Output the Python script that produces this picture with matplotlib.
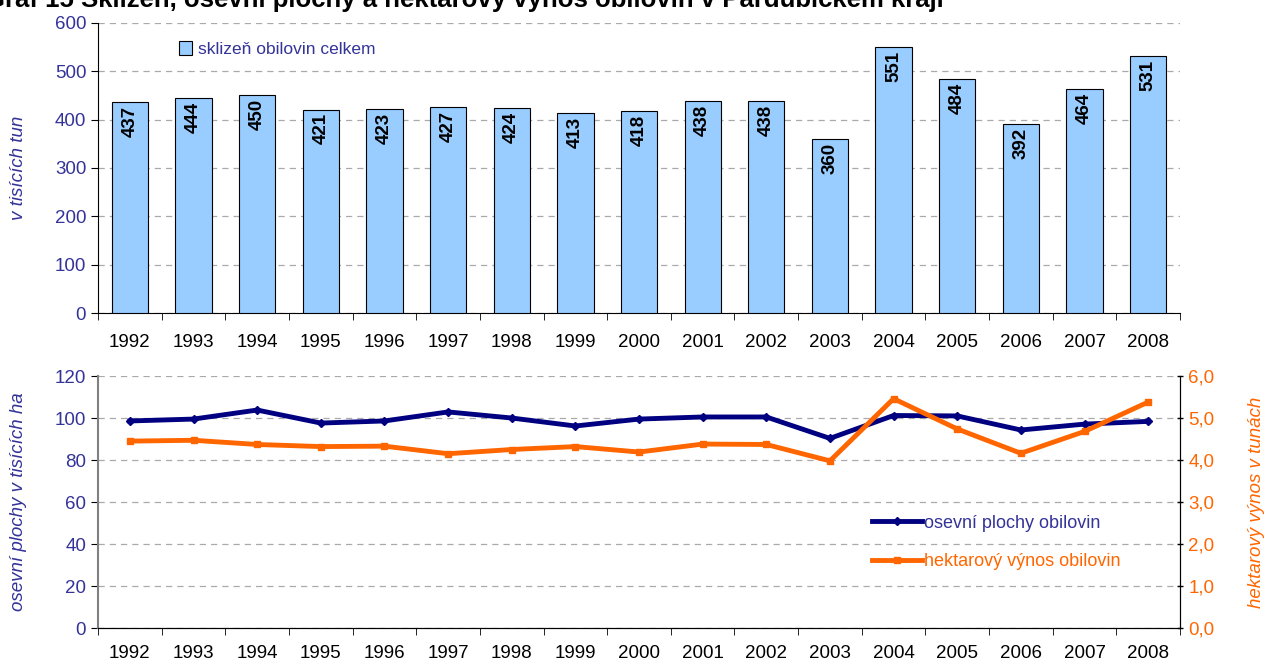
import numpy as np
import matplotlib.pyplot as plt
from matplotlib.ticker import FixedLocator, FuncFormatter

plt.rcParams['font.family'] = ['Liberation Sans', 'DejaVu Sans']

roky = [str(r) for r in range(1992, 2009)]
sklizen = [437, 444, 450, 421, 423, 427, 424, 413, 418, 438, 438, 360, 551, 484, 392, 464, 531]
plochy = [98.6, 99.5, 103.8, 97.6, 98.6, 102.9, 100.0, 96.2, 99.5, 100.5, 100.5, 90.3,
          101.2, 101.0, 94.3, 97.1, 98.4]
vynos = [4.45, 4.47, 4.37, 4.32, 4.33, 4.15, 4.25, 4.32, 4.19, 4.38, 4.37, 3.98,
         5.46, 4.74, 4.16, 4.68, 5.38]

modra = '#333399'
oranz = '#FF6600'
x = np.arange(len(roky))

fig = plt.figure(figsize=(12.65, 6.64), dpi=100)
ax1 = fig.add_axes([0.0775, 0.5286, 0.8553, 0.4368])
ax2 = fig.add_axes([0.0775, 0.0542, 0.8553, 0.3795])

# nadpis je v originale nahore oriznuty
fig.text(-0.012, 0.9895, 'Graf 15 Sklizeň, osevní plochy a hektarový výnos obilovin v Pardubickém kraji',
         fontsize=18.5, fontweight='bold', va='baseline', ha='left')

# horni graf - sklizen
ax1.bar(x, sklizen, width=0.57, color='#99CCFF', edgecolor='black', linewidth=0.8,
        label='sklizeň obilovin celkem', zorder=3)
for xi, v in zip(x, sklizen):
    ax1.text(xi, v - 8, str(v), rotation=90, ha='center', va='top',
             fontsize=13.5, fontweight='bold', zorder=4)
ax1.set_xlim(-0.5, 16.5)
ax1.set_ylim(0, 600)
ax1.set_yticks(range(0, 601, 100))
ax1.set_xticks(x)
ax1.set_xticklabels(roky)
ax1.xaxis.set_minor_locator(FixedLocator(np.arange(-0.5, 17, 1)))
ax1.tick_params(axis='x', which='major', length=0, pad=15, labelsize=13.5)
ax1.tick_params(axis='x', which='minor', length=5, direction='out')
ax1.tick_params(axis='y', labelsize=13.5, labelcolor=modra, length=5)
ax1.yaxis.grid(True, linestyle=(0, (5, 4)), color='#aaaaaa', linewidth=0.9, zorder=0)
ax1.set_axisbelow(True)
for s in ['top', 'right']:
    ax1.spines[s].set_visible(False)
ax1.set_ylabel('v tisících tun', fontsize=13.5, color=modra, style='italic')
ax1.yaxis.set_label_coords(-0.066, 0.5)
leg1 = ax1.legend(loc='upper left', bbox_to_anchor=(0.06, 0.99), frameon=False,
                  fontsize=12.5, handlelength=0.8, handleheight=0.8, handletextpad=0.3)
for t in leg1.get_texts():
    t.set_color(modra)

# dolni graf - plochy a vynos
ax3 = ax2.twinx()
l1, = ax2.plot(x, plochy, color='#000080', linewidth=3.5, marker='D', markersize=4,
               label='osevní plochy obilovin', zorder=4)
l2, = ax3.plot(x, vynos, color=oranz, linewidth=3.5, marker='s', markersize=5,
               label='hektarový výnos obilovin', zorder=3)
ax2.set_xlim(-0.5, 16.5)
ax2.set_ylim(0, 120)
ax3.set_ylim(0, 6)
ax2.set_yticks(range(0, 121, 20))
ax3.set_yticks(np.arange(0, 6.01, 1))
ax3.yaxis.set_major_formatter(FuncFormatter(lambda v, p: f'{v:.1f}'.replace('.', ',')))
ax2.set_xticks(x)
ax2.set_xticklabels(roky)
ax2.xaxis.set_minor_locator(FixedLocator(np.arange(-0.5, 17, 1)))
ax2.tick_params(axis='x', which='major', length=0, pad=12, labelsize=13.5)
ax2.tick_params(axis='x', which='minor', length=5, direction='out')
ax2.tick_params(axis='y', labelsize=13.5, labelcolor=modra, length=5)
ax3.tick_params(axis='y', labelsize=13.5, labelcolor=oranz, length=5, direction='inout', width=1)
ax2.yaxis.grid(True, linestyle=(0, (5, 4)), color='#aaaaaa', linewidth=0.9)
ax2.set_axisbelow(True)
ax2.spines['top'].set_visible(False)
ax3.spines['top'].set_visible(False)
ax2.spines['left'].set_color('#808080')
ax2.spines['left'].set_linewidth(1.5)
ax3.spines['left'].set_visible(False)
ax2.set_ylabel('osevní plochy v tisících ha', fontsize=13.5, color=modra, style='italic')
ax2.yaxis.set_label_coords(-0.066, 0.5)
ax3.set_ylabel('hektarový výnos v tunách', fontsize=13.5, color=oranz, style='italic')
ax3.yaxis.set_label_coords(1.063, 0.5)
leg2 = ax3.legend([l1, l2], [l1.get_label(), l2.get_label()], loc='lower left',
                  bbox_to_anchor=(0.7, 0.165), frameon=False, fontsize=13,
                  handlelength=2.8, handletextpad=0.1, labelspacing=1.2)
leg2.get_texts()[0].set_color(modra)
leg2.get_texts()[1].set_color(oranz)

fig.savefig('out.png', dpi=100)
